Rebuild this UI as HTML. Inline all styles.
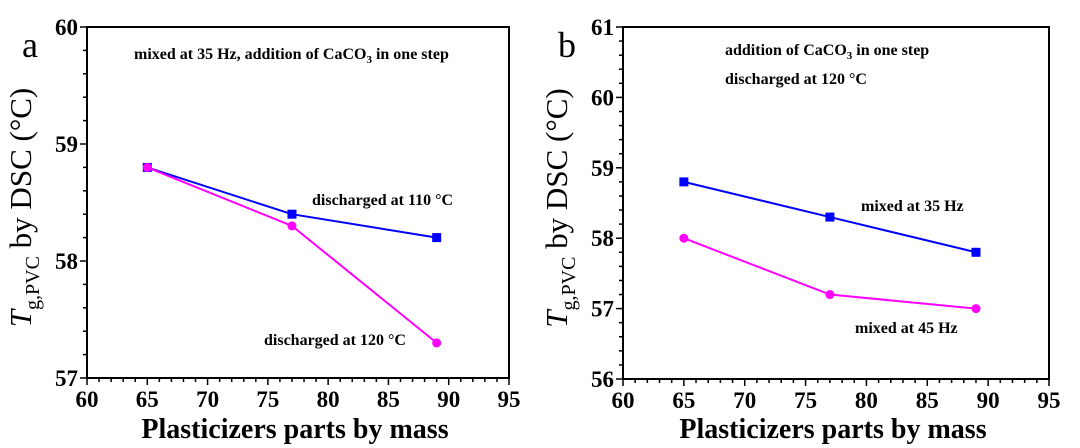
<!DOCTYPE html>
<html><head><meta charset="utf-8"><style>
body{margin:0;background:#fff}
svg{display:block;font-family:"Liberation Serif",serif}
</style></head><body>
<svg id="chart" width="1080" height="448" viewBox="0 0 1080 448"></svg>
<script>
const xTicks=[60,65,70,75,80,85,90,95];
const xCats=[65,77,89];
const aTicks=[57,58,59,60];
const aBlue=[58.8,58.4,58.2];
const aPink=[58.8,58.3,57.3];
const bTicks=[56,57,58,59,60,61];
const bBlue=[58.8,58.3,57.8];
const bPink=[58.0,57.2,57.0];
const NS="http://www.w3.org/2000/svg";
const svg=document.getElementById('chart');
function mk(tag,attrs,parent,text){const e=document.createElementNS(NS,tag);for(const k in attrs)e.setAttribute(k,attrs[k]);if(text!==undefined)e.textContent=text;(parent||svg).appendChild(e);return e;}
function panel(cfg){
  const g=mk('g',{});
  
  
  const L=cfg.L,R=cfg.R,T=cfg.T,B=cfg.B;
  const yMin=cfg.yTicks[0],yMax=cfg.yTicks[cfg.yTicks.length-1];
  const sx=v=>L+(v-60)/(95-60)*(R-L);
  const sy=v=>B-(v-yMin)/(yMax-yMin)*(B-T);
  const frame=mk('rect',{x:L,y:T,width:R-L,height:B-T,fill:'none',stroke:'#000','stroke-width':2},g);
  
  
  for(let v=60;v<=95;v+=1){const maj=v%5===0;mk('line',{x1:sx(v),x2:sx(v),y1:B,y2:B+(maj?7:4),stroke:'#000','stroke-width':1.5},g);}
  xTicks.forEach(v=>{const t=mk('text',{x:sx(v),y:B+29,'text-anchor':'middle','font-size':23,'font-weight':'bold'},g,v);
    });
  const n=Math.round((yMax-yMin)/0.2);
  for(let i=0;i<=n;i++){const v=yMin+i*0.2;const maj=i%5===0;mk('line',{x1:L,x2:L-(maj?7:4),y1:sy(v),y2:sy(v),stroke:'#000','stroke-width':1.5},g);}
  cfg.yTicks.forEach(v=>{const t=mk('text',{x:L-9,y:sy(v)+8,'text-anchor':'end','font-size':23,'font-weight':'bold'},g,v);
    });
  const xt=mk('text',{x:(L+R)/2-3,y:438,'text-anchor':'middle','font-size':28,'font-weight':'bold'},g,'Plasticizers parts by mass');
  
  const yt=mk('text',{transform:`translate(${L-56},${(T+B)/2+5}) rotate(-90)`,'text-anchor':'middle','font-size':31},g);
  
  mk('tspan',{'font-style':'italic'},yt,'T');
  mk('tspan',{'font-size':20,dy:8},yt,'g,PVC');
  mk('tspan',{dy:-8},yt,' by DSC (°C)');
  const pl=mk('text',{x:cfg.id==='a'?22:558,y:57,'font-size':36},g,cfg.id);
  
  [[cfg.blue,'#0000ff','sq'],[cfg.pink,'#ff00ff','ci']].forEach(([vals,col,m],si)=>{
    const pts=vals.map((v,i)=>sx(xCats[i])+','+sy(v)).join(' ');
    const ln=mk('polyline',{points:pts,fill:'none',stroke:col,'stroke-width':2},g);
    
    
    vals.forEach((v,i)=>{let p;
      if(m==='sq')p=mk('rect',{x:sx(xCats[i])-4.5,y:sy(v)-4.5,width:9,height:9,fill:col},g);
      else p=mk('circle',{cx:sx(xCats[i]),cy:sy(v),r:4.5,fill:col},g);
      });
  });
  cfg.notes.forEach(([x,y,s])=>{const t=mk('text',{x:x,y:y,'font-size':16,'font-weight':'bold'},g);
    
    const parts=s.split('_3');mk('tspan',{},t,parts[0]);
    if(parts.length>1){mk('tspan',{'font-size':11,dy:4},t,'3');mk('tspan',{dy:-4},t,parts[1]);}});
}
panel({id:'a',L:87,R:509,T:27,B:378,yTicks:aTicks,blue:aBlue,pink:aPink,
  notes:[[134,59,'mixed at 35 Hz, addition of CaCO_3 in one step'],[312,205,'discharged at 110 °C'],[264,345,'discharged at 120 °C']]});
panel({id:'b',L:623,R:1049,T:27,B:379,yTicks:bTicks,blue:bBlue,pink:bPink,
  notes:[[725,55,'addition of CaCO_3 in one step'],[725,84,'discharged at 120 °C'],[861,211,'mixed at 35 Hz'],[855,333,'mixed at 45 Hz']]});
</script>
</body></html>
